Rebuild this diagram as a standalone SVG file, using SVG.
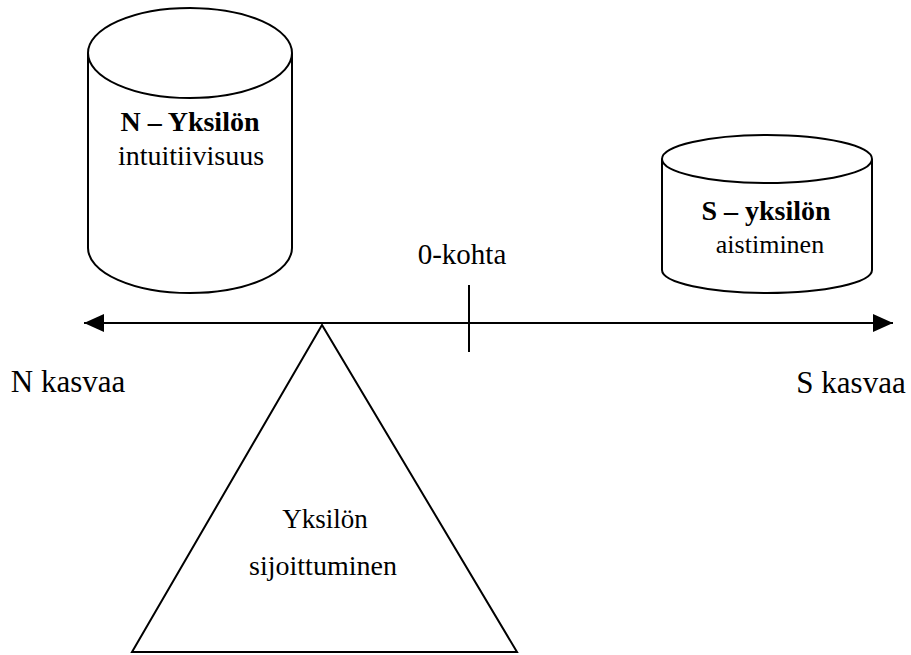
<svg xmlns="http://www.w3.org/2000/svg" width="911" height="655" viewBox="0 0 911 655">
<style>
.shape{fill:#fff;stroke:#000;stroke-width:2}
.ln{fill:none;stroke:#000;stroke-width:2}
text{font-family:"Liberation Serif","Times New Roman",serif;fill:#000;text-anchor:middle}
.b{font-weight:bold}
</style>
<defs>
<marker id="ah" markerUnits="userSpaceOnUse" markerWidth="22" markerHeight="20" refX="20" refY="10" orient="auto-start-reverse">
<path d="M0,1 L20,10 L0,19 Z" fill="#000"/>
</marker>
</defs>
<rect width="911" height="655" fill="#fff"/>
<g id="connectors">
<line class="ln" x1="84" y1="323" x2="893" y2="323" marker-start="url(#ah)" marker-end="url(#ah)"/>
<line class="ln" x1="469" y1="285" x2="469" y2="352"/>
</g>
<g id="cylinder-n">
<path class="shape" d="M88,53 L88,248 A102,45 0 0 0 292,248 L292,53"/>
<ellipse class="shape" cx="190" cy="53" rx="102" ry="45"/>
<text x="190" y="131" font-size="28" class="b">N – Yksilön</text>
<text x="191" y="165" font-size="28">intuitiivisuus</text>
</g>
<g id="cylinder-s">
<path class="shape" d="M662,159 L662,270 A105,23 0 0 0 872,270 L872,159"/>
<ellipse class="shape" cx="767" cy="159" rx="105" ry="24"/>
<text x="766" y="220" font-size="28" class="b">S – yksilön</text>
<text x="770" y="253" font-size="26">aistiminen</text>
</g>
<g id="zero-label">
<text x="462" y="264" font-size="29">0-kohta</text>
</g>
<g id="fulcrum">
<path class="shape" d="M322,325 L132,652 L517,652 Z"/>
<text x="325" y="528" font-size="27">Yksilön</text>
<text x="323" y="575" font-size="28">sijoittuminen</text>
</g>
<g id="n-label">
<text x="68" y="392" font-size="31">N kasvaa</text>
</g>
<g id="s-label">
<text x="851" y="393" font-size="31">S kasvaa</text>
</g>
</svg>
